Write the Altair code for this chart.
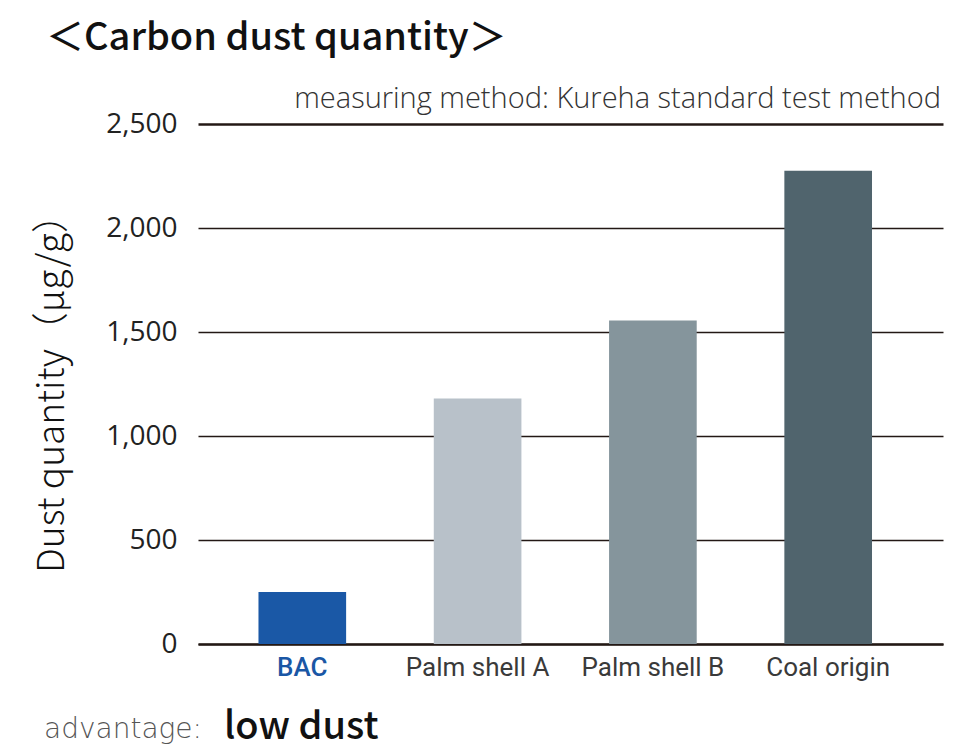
import altair as alt
import pandas as pd

categories = ["BAC", "Palm shell A", "Palm shell B", "Coal origin"]
values = [250, 1180, 1555, 2275]
colors = ["#1a58a6", "#b8c1c9", "#85959c", "#50646d"]
y_ticks = [0, 500, 1000, 1500, 2000, 2500]

df = pd.DataFrame({"material": categories, "dust": values})

W, H = 745, 520
FONT = "Roboto"
JP = "Noto Sans CJK JP"

bars = alt.Chart(df).mark_bar().encode(
    x=alt.X(
        "material:N",
        sort=categories,
        scale=alt.Scale(paddingInner=0.5, paddingOuter=0.375, align=0.46),
        axis=alt.Axis(
            title=None,
            labelAngle=0,
            labelFont=FONT,
            labelFontSize=26,
            labelPadding=10,
            labelColor={"condition": {"test": "datum.value == 'BAC'", "value": "#1a57a5"}, "value": "#3a3a3a"},
            labelFontWeight={"condition": {"test": "datum.value == 'BAC'", "value": 500}, "value": 400},
            ticks=False,
            domainColor="#231815",
            domainWidth=2.5,
        ),
    ),
    y=alt.Y(
        "dust:Q",
        scale=alt.Scale(domain=[0, 2500], nice=False),
        axis=alt.Axis(
            values=y_ticks,
            format=",d",
            title="Dust quantity（μg/g）",
            titleFont=JP,
            titleFontSize=37,
            titleFontWeight=300,
            titleColor="#111111",
            titlePadding=34,
            labelFont="Open Sans",
            labelFontSize=28,
            labelFontWeight=400,
            labelColor="#222222",
            labelPadding=21,
            ticks=False,
            domain=False,
            grid=True,
            gridColor="#231815",
            gridWidth={"condition": {"test": "datum.value == 2500", "value": 2.5}, "value": 1.3},
        ),
    ),
    color=alt.Color("material:N", scale=alt.Scale(domain=categories, range=colors), legend=None),
)

title = alt.Chart(pd.DataFrame({"t": ["＜Carbon dust quantity＞"]})).mark_text(
    align="left", baseline="alphabetic", font=JP, fontSize=38, fontWeight=500, color="#111111"
).encode(text="t:N", x=alt.value(-152), y=alt.value(-74))

subtitle = alt.Chart(pd.DataFrame({"t": ["measuring method: Kureha standard test method"]})).mark_text(
    align="right", baseline="alphabetic", font="Open Sans", fontSize=29, fontWeight=300, color="#333333"
).encode(text="t:N", x=alt.value(W - 2), y=alt.value(-16))

adv = alt.Chart(pd.DataFrame({"t": ["advantage:"]})).mark_text(
    align="left", baseline="alphabetic", font="DejaVu Sans", fontSize=28, fontWeight=200, color="#555555"
).encode(text="t:N", x=alt.value(-154), y=alt.value(94 + H))

low = alt.Chart(pd.DataFrame({"t": ["low dust"]})).mark_text(
    align="left", baseline="alphabetic", font=JP, fontSize=38, fontWeight=500, color="#111111"
).encode(text="t:N", x=alt.value(26), y=alt.value(95 + H))

chart = alt.layer(bars, title, subtitle, adv, low).properties(
    width=W,
    height=H,
    autosize=alt.AutoSizeParams(type="none"),
    padding={"left": 190, "top": 116, "right": 10, "bottom": 106},
).configure_view(stroke=None)

chart.save("out.html", embed_options={"renderer": "svg", "actions": False})
